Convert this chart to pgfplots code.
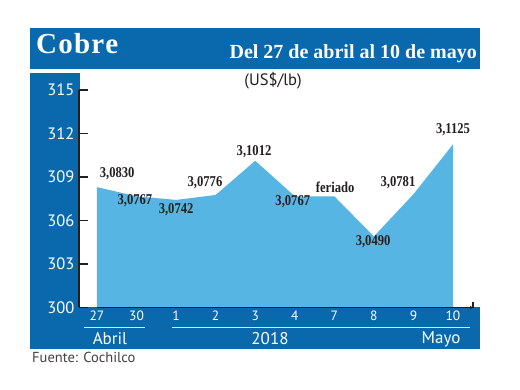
\documentclass[border=0pt]{standalone}
\usepackage{pgfplots}
\pgfplotsset{compat=1.18}
\usepackage{fontspec}
\setmainfont{Liberation Serif}
\newfontfamily\sans{PT Sans}
\definecolor{hdr}{HTML}{0A68AD}
\definecolor{fillc}{HTML}{57B5E3}
\definecolor{axisc}{HTML}{231F20}
\definecolor{ulc}{HTML}{D6E6F3}
\newcommand{\lab}[1]{\scalebox{0.84}[1]{\bfseries\fontsize{15}{17}\selectfont #1}}
\begin{document}
\begin{tikzpicture}
\fill[white] (0,0) rectangle (520pt,390pt);
\fill[hdr] (30pt,321pt) rectangle (480pt,362pt);
\fill[hdr] (30pt,41pt) rectangle (80pt,317pt);
\fill[hdr] (80pt,41pt) rectangle (480pt,82.5pt);
\begin{axis}[
  name=ax,
  at={(79pt,82.5pt)}, anchor=south west,
  scale only axis, width=394pt, height=217.5pt,
  xmin=-0.455, xmax=9.506, ymin=300, ymax=315,
  axis y line=left, axis x line=bottom,
  x axis line style={draw opacity=0},
  y axis line style={line width=1.6pt, draw=axisc, -},
  ytick={300,303,306,309,312,315},
  xtick={0,...,9},
  xticklabels={27,30,1,2,3,4,7,8,9,10},
  tick align=inside,
  major tick length=9pt,
  y tick style={line width=1.6pt, draw=axisc},
  x tick style={draw=none},
  /pgf/number format/assume math mode=true,
  yticklabel style={font=\sans\fontsize{16.5}{18}\selectfont, text=white, xshift=-1pt},
  xticklabel style={font=\sans\fontsize{13.5}{15}\selectfont, text=white},
]
\addplot[fill=fillc, draw=none] coordinates {
(0,300) (0,308.30) (1,307.67) (2,307.42) (3,307.76) (4,310.12)
(5,307.67) (6,307.67) (7,304.90) (8,307.81) (9,311.25) (9,300)} -- cycle;
\coordinate (x0) at (axis cs:0,300);
\coordinate (l1) at (axis cs:0.51,309.21);
\coordinate (l2) at (axis cs:0.96,307.34);
\coordinate (l3) at (axis cs:2.0,306.72);
\coordinate (l4) at (axis cs:2.73,308.59);
\coordinate (l5) at (axis cs:3.97,310.72);
\coordinate (l6) at (axis cs:4.95,307.28);
\coordinate (l7) at (axis cs:6.02,308.31);
\coordinate (l8) at (axis cs:6.98,304.52);
\coordinate (l9) at (axis cs:7.61,308.59);
\coordinate (l10) at (axis cs:9,312.24);
\end{axis}
\draw[line width=1.6pt, draw=axisc] (x0) -- (ax.south east) -- ++(0,5pt);
\begin{scope}[every node/.style={text=axisc}]
\node at (l1) {\lab{3,0830}};
\node at (l2) {\lab{3,0767}};
\node at (l3) {\lab{3,0742}};
\node at (l4) {\lab{3,0776}};
\node at (l5) {\lab{3,1012}};
\node at (l6) {\lab{3,0767}};
\node at (l7) {\lab{feriado}};
\node at (l8) {\lab{3,0490}};
\node at (l9) {\lab{3,0781}};
\node at (l10) {\lab{3,1125}};
\end{scope}
\node[anchor=base west, text=white, inner sep=0] at (36pt,336pt) {\fontsize{29}{32}\selectfont\bfseries C\kern1.2pt o\kern1.2pt b\kern1.2pt r\kern1.2pt e};
\node[anchor=base east, text=white, inner sep=0] at (477pt,331pt) {\fontsize{20}{22}\selectfont\bfseries Del 27 de abril al 10 de mayo};
\node[text=axisc] at (273pt,309pt) {\sans\fontsize{16.5}{18}\selectfont (US\$/lb)};
\draw[ulc, line width=1pt] (84pt,62pt) -- (145pt,62pt);
\draw[ulc, line width=1pt] (172pt,62pt) -- (470pt,62pt);
\node[text=white] at (110pt,51pt) {\sans\fontsize{17}{19}\selectfont Abril};
\node[text=white] at (270pt,51pt) {\sans\fontsize{17}{19}\selectfont 2018};
\node[text=white] at (441pt,51pt) {\sans\fontsize{17}{19}\selectfont Mayo};
\node[anchor=west, text=axisc!85, inner sep=0] at (32pt,33pt) {\sans\fontsize{14.5}{16}\selectfont Fuente: Cochilco};
\end{tikzpicture}
\end{document}
